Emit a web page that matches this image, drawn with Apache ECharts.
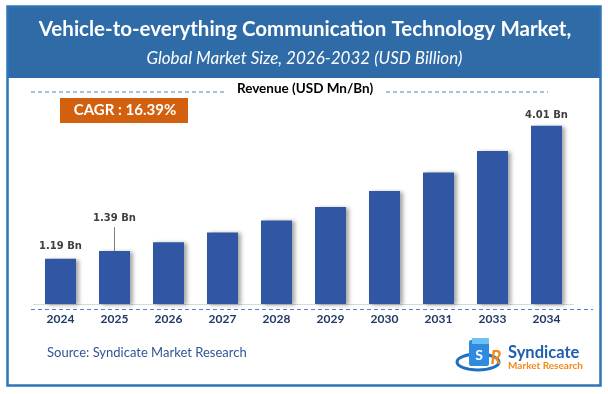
<!DOCTYPE html>
<html><head><meta charset="utf-8">
<script src="https://cdn.jsdelivr.net/npm/echarts@6/dist/echarts.min.js"></script>
<style>html,body{margin:0;padding:0;background:#fff}#c{width:608px;height:394px}</style>
</head><body><div id="c"></div>
<script>
// ---- data ----
const categories = ['2024','2025','2026','2027','2028','2029','2030','2031','2033','2034'];
const revenue = [1.02, 1.19, 1.39, 1.61, 1.88, 2.18, 2.54, 2.96, 3.44, 4.01];
const valueLabels = ['1.19 Bn','1.39 Bn','','','','','','','','4.01 Bn'];
const titleText = 'Vehicle-to-everything Communication Technology Market,';
const subtitleText = 'Global Market Size, 2026-2032 (USD Billion)';
const axisTitle = 'Revenue (USD Mn/Bn)';
const cagrText = 'CAGR : 16.39%';
const sourceText = 'Source: Syndicate Market Research';
const leaderTop = 1.73; // value where the 2025 label leader line ends

const FONT = 'Lato, "Open Sans", sans-serif';
const chart = echarts.init(document.getElementById('c'), null, {renderer:'canvas'});

const seriesData = revenue.map((v, i) => ({
  value: v,
  label: {
    show: valueLabels[i] !== '',
    formatter: valueLabels[i],
    distance: i === 1 ? 28 : (i === 0 ? 7 : 5)
  }
}));

const dash = (x1, x2, y) => ({
  type: 'line', silent: true,
  shape: {x1: x1, y1: y, x2: x2, y2: y},
  style: {stroke: '#4F81D0', lineWidth: 1, lineDash: [4, 3]}
});

chart.setOption({
  animation: false,
  backgroundColor: '#ffffff',
  grid: {left: 33.5, right: 34.5, top: 104, bottom: 90},
  xAxis: {
    type: 'category', data: categories,
    axisLine: {show: true, lineStyle: {color: '#D9D9D9', width: 1}},
    axisTick: {show: false},
    axisLabel: {color: '#1F3864', fontFamily: FONT, fontWeight: 'bold', fontSize: 12, margin: 9}
  },
  yAxis: {
    type: 'value', min: 0, max: 4.5,
    show: false, splitLine: {show: false}
  },
  series: [{
    type: 'bar', data: seriesData, barWidth: 31,
    itemStyle: {
      color: '#3157A4',
      shadowColor: 'rgba(0,0,0,0.35)', shadowBlur: 4, shadowOffsetX: 3, shadowOffsetY: 1
    },
    label: {
      position: 'top', color: '#404040', fontFamily: '"DejaVu Sans", sans-serif',
      fontWeight: 'bold', fontSize: 10
    },
    markLine: {
      silent: true, symbol: ['none', 'none'],
      label: {show: false},
      lineStyle: {color: '#7F7F7F', type: 'solid', width: 1},
      data: [[{coord: [categories[1], revenue[1]]}, {coord: [categories[1], leaderTop]}]]
    }
  }],
  graphic: [
    {type: 'rect', silent: true, shape: {x: 7, y: 6, width: 594, height: 72}, style: {fill: '#2E6BA7'}},
    {type: 'text', silent: true, x: 305, y: 29, style: {text: titleText, fill: '#ffffff',
      font: 'bold 20.5px ' + FONT, textAlign: 'center', textVerticalAlign: 'middle'}},
    {type: 'text', silent: true, x: 304.5, y: 59, style: {text: subtitleText, fill: '#ffffff',
      font: 'italic 17px ' + FONT, textAlign: 'center', textVerticalAlign: 'middle'}},
    dash(31, 225, 92),
    dash(386, 548, 92),
    {type: 'text', silent: true, x: 305, y: 89, style: {text: axisTitle, fill: '#000000',
      font: 'bold 13.5px ' + FONT, textAlign: 'center', textVerticalAlign: 'middle'}},
    {type: 'rect', silent: true, shape: {x: 60, y: 98, width: 128, height: 25}, style: {fill: '#D2600E'}},
    {type: 'text', silent: true, x: 125, y: 110.5, style: {text: cagrText, fill: '#ffffff',
      font: 'bold 15px ' + FONT, textAlign: 'center', textVerticalAlign: 'middle'}},
    dash(31, 593, 309.5),
    {type: 'text', silent: true, x: 47, y: 353, style: {text: sourceText, fill: '#2F5597',
      font: '13px ' + FONT, textAlign: 'left', textVerticalAlign: 'middle'}},
    // logo
    {type: 'ellipse', silent: true, shape: {cx: 478, cy: 362, rx: 21, ry: 8},
      style: {fill: 'none', stroke: '#1F6FC0', lineWidth: 3}},
    {type: 'rect', silent: true, shape: {x: 469, y: 340, width: 20, height: 26, r: 2}, style: {fill: '#2E8BE0'}},
    {type: 'rect', silent: true, shape: {x: 472, y: 338, width: 17, height: 6}, style: {fill: '#6EC1F5'}},
    {type: 'text', silent: true, x: 479, y: 355, style: {text: 'S', fill: '#ffffff',
      font: 'bold 14px ' + FONT, textAlign: 'center', textVerticalAlign: 'middle'}},
    {type: 'text', silent: true, x: 496, y: 358, style: {text: 'R', fill: '#F08A1C',
      font: 'italic bold 18px ' + FONT, textAlign: 'center', textVerticalAlign: 'middle'}},
    {type: 'text', silent: true, x: 508, y: 353, style: {text: 'Syndicate', fill: '#1F5FAD',
      font: 'bold 16.5px ' + FONT, textAlign: 'left', textVerticalAlign: 'middle'}},
    {type: 'text', silent: true, x: 508, y: 366, style: {text: 'Market Research', fill: '#F08A1C',
      font: 'bold 10px ' + FONT, textAlign: 'left', textVerticalAlign: 'middle'}},
    {type: 'rect', silent: true, z: 100, shape: {x: 7.5, y: 6.5, width: 593, height: 379},
      style: {fill: 'none', stroke: '#2E75B6', lineWidth: 2.5}}
  ]
});
</script>
</body></html>
